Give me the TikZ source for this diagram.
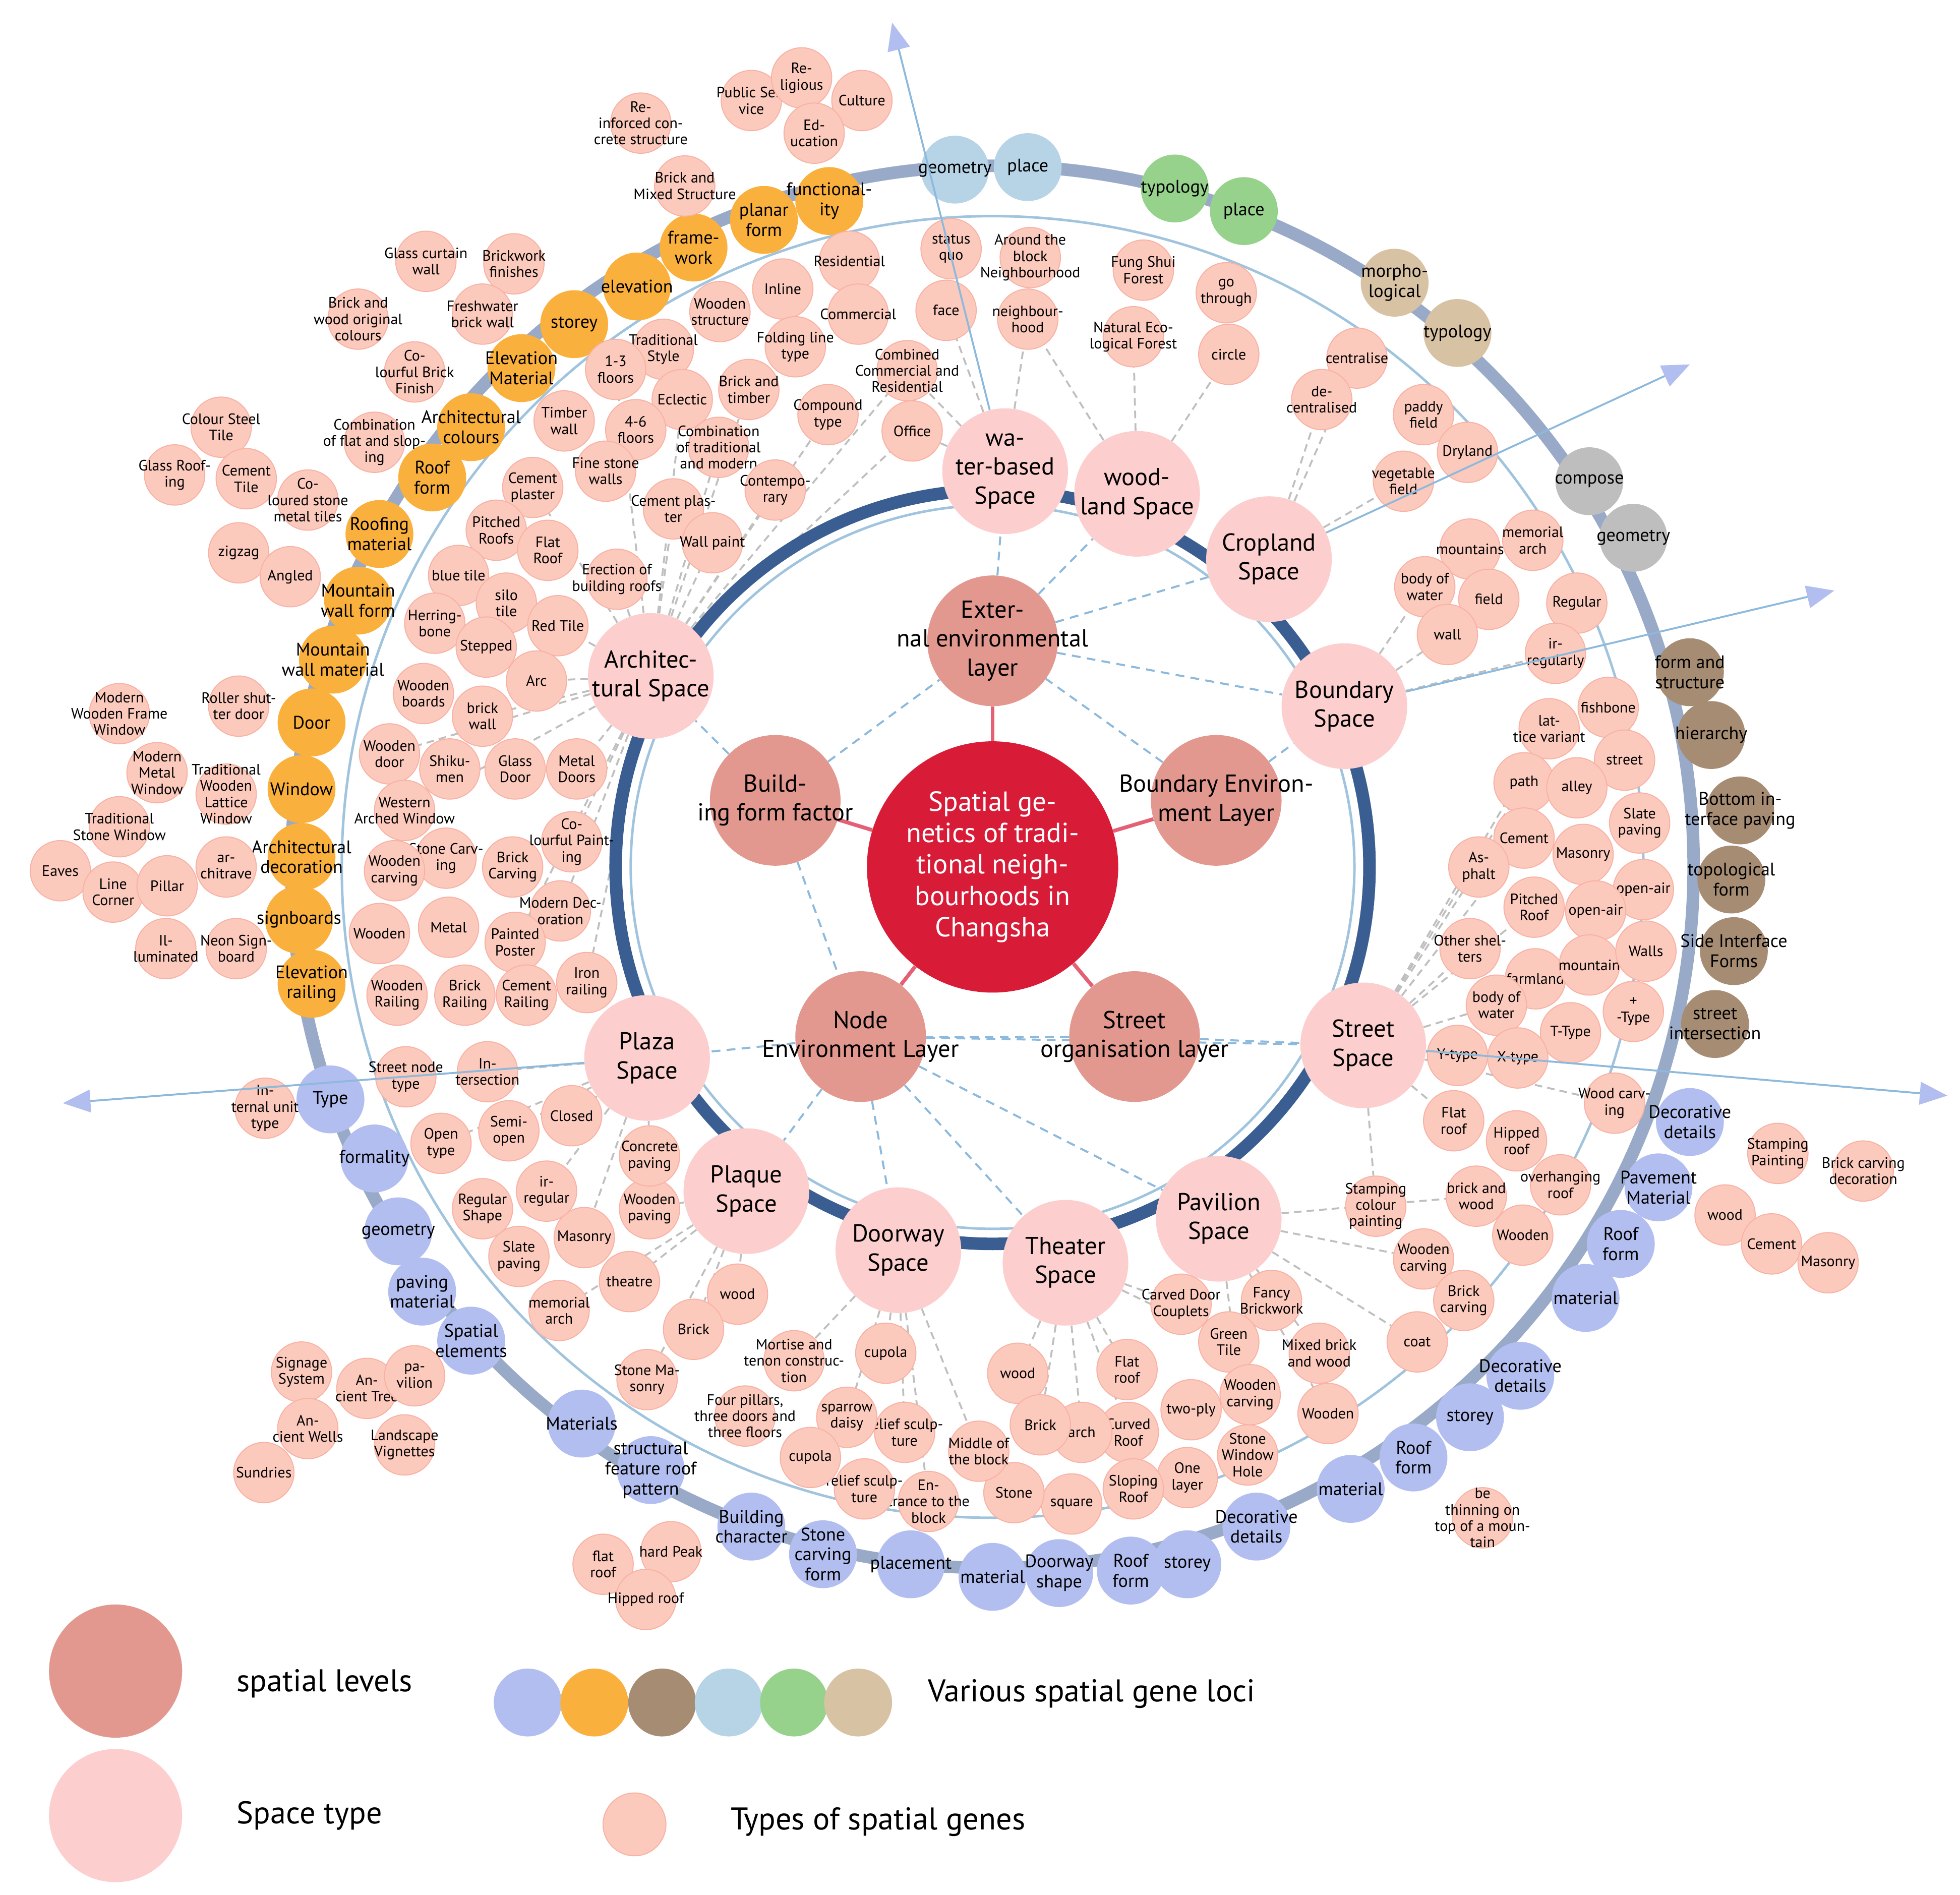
\documentclass[tikz,border=0pt]{standalone}
\usepackage{fontspec}
\setmainfont{PT Sans}
\usetikzlibrary{backgrounds,arrows.meta}
\definecolor{core}{RGB}{216,28,56}
\definecolor{lvl}{RGB}{226,152,143}
\definecolor{spc}{RGB}{252,206,206}
\definecolor{gen}{RGB}{252,202,188}
\definecolor{genl}{RGB}{248,178,165}
\definecolor{lblue}{RGB}{178,190,240}
\definecolor{lorange}{RGB}{250,176,60}
\definecolor{lbrown}{RGB}{166,140,114}
\definecolor{lsky}{RGB}{182,212,230}
\definecolor{lgreen}{RGB}{150,210,140}
\definecolor{ltan}{RGB}{216,194,164}
\definecolor{lgrey}{RGB}{190,190,190}
\definecolor{ringdark}{RGB}{58,94,145}
\definecolor{ringlight}{RGB}{160,196,222}
\definecolor{ringgrey}{RGB}{152,170,200}
\definecolor{axis}{RGB}{140,185,220}
\tikzset{
  core/.style={circle,fill=core,minimum size=200pt,inner sep=0pt},
  ct/.style={text=white,align=center,inner sep=0pt,font=\fontsize{22}{25}\selectfont},
  level/.style={circle,fill=lvl,minimum size=104pt,inner sep=0pt},
  space/.style={circle,fill=spc,minimum size=100pt,inner sep=0pt},
  st/.style={align=center,inner sep=0pt,font=\fontsize{19.5}{23}\selectfont},
  gene/.style={circle,fill=gen,draw=genl,line width=0.8pt,minimum size=48pt,inner sep=0pt},
  gt/.style={align=center,inner sep=0pt,font=\fontsize{12}{13}\selectfont},
  locus/.style={circle,fill=#1,minimum size=54pt,inner sep=0pt},
  lt/.style={align=center,inner sep=0pt,font=\fontsize{14.5}{16}\selectfont},
  tie/.style={dash pattern=on 6pt off 4pt,gray!50,line width=1.5pt},
  lvltie/.style={dash pattern=on 7pt off 5pt,axis,line width=1.6pt},
  coretie/.style={core!70,line width=3pt},
  ray/.style={axis,line width=1.5pt,-{Triangle[length=22pt,width=18pt,fill=lblue,color=lblue]}},
  legend/.style={font=\fontsize{25}{28}\selectfont,anchor=west}
}
\newcommand\gn[3]{\node[gene,label={[gt]center:#3}] (#1) at (#2) {};}
\newcommand\lc[4]{\node[locus=#2,label={[lt]center:#4}] (#1) at (#3) {};}
\begin{document}
\begin{tikzpicture}[x=1pt,y=-1pt]
\useasboundingbox (0,0) rectangle (1560,1508);
% rings
\draw[ringgrey,line width=10pt] (790,690) circle (558);
\draw[ringlight,line width=2pt] (790,690) circle (518);
\draw[ringdark,line width=10pt] (790,690) circle (300);
\draw[ringlight,line width=2pt] (790,690) circle (288);

% core and levels
\node[core,label={[ct]center:Spatial ge-\\netics of tradi-\\tional neigh-\\bourhoods in\\Changsha}] (c) at (790,690) {};
\node[level,label={[st]center:Exter-\\nal environmental\\layer}] (ext) at (790,510) {};
\node[level,label={[st]center:Build-\\ing form factor}] (bld) at (617,637) {};
\node[level,label={[st]center:Boundary Environ-\\ment Layer}] (bnd) at (968,637) {};
\node[level,label={[st]center:Node\\Environment Layer}] (nde) at (685,825) {};
\node[level,label={[st]center:Street\\organisation layer}] (sto) at (903,825) {};

% spaces
\node[space,label={[st]center:wa-\\ter-based\\Space}] (water) at (800,375) {};
\node[space,label={[st]center:wood-\\land Space}] (wood) at (905,393) {};
\node[space,label={[st]center:Cropland\\Space}] (crop) at (1010,445) {};
\node[space,label={[st]center:Boundary\\Space}] (bound) at (1070,562) {};
\node[space,label={[st]center:Street\\Space}] (street) at (1085,832) {};
\node[space,label={[st]center:Pavilion\\Space}] (pav) at (970,970) {};
\node[space,label={[st]center:Theater\\Space}] (theat) at (848,1005) {};
\node[space,label={[st]center:Doorway\\Space}] (door) at (715,995) {};
\node[space,label={[st]center:Plaque\\Space}] (plaq) at (594,948) {};
\node[space,label={[st]center:Plaza\\Space}] (plaza) at (515,842) {};
\node[space,label={[st]center:Architec-\\tural Space}] (arch) at (518,538) {};

% loci
\lc{l1}{lsky}{760,135}{geometry}
\lc{l2}{lsky}{818,133}{place}
\lc{l3}{lgreen}{935,150}{typology}
\lc{l4}{lgreen}{990,168}{place}
\lc{l5}{ltan}{1110,225}{morpho-\\logical}
\lc{l6}{ltan}{1160,265}{typology}
\lc{l7}{lgrey}{1265,383}{compose}
\lc{l8}{lgrey}{1300,428}{geometry}
\lc{l9}{lbrown}{1345,535}{form and\\structure}
\lc{l10}{lbrown}{1362,585}{hierarchy}
\lc{l11}{lbrown}{1385,645}{Bottom in-\\terface paving}
\lc{l12}{lbrown}{1378,700}{topological\\form}
\lc{l13}{lbrown}{1380,757}{Side Interface\\Forms}
\lc{l14}{lbrown}{1365,815}{street\\intersection}
\lc{l15}{lblue}{1345,893}{Decorative\\details}
\lc{l16}{lblue}{1320,945}{Pavement\\Material}
\lc{l17}{lblue}{1290,990}{Roof\\form}
\lc{l18}{lblue}{1262,1033}{material}
\lc{l19}{lblue}{1210,1095}{Decorative\\details}
\lc{l20}{lblue}{1170,1128}{storey}
\lc{l21}{lblue}{1125,1160}{Roof\\form}
\lc{l22}{lblue}{1075,1185}{material}
\lc{l23}{lblue}{1000,1215}{Decorative\\details}
\lc{l24}{lblue}{945,1245}{storey}
\lc{l25}{lblue}{900,1250}{Roof\\form}
\lc{l26}{lblue}{843,1252}{Doorway\\shape}
\lc{l27}{lblue}{790,1255}{material}
\lc{l28}{lblue}{725,1245}{placement}
\lc{l29}{lblue}{655,1237}{Stone\\carving\\form}
\lc{l30}{lblue}{598,1215}{Building\\character}
\lc{l31}{lblue}{518,1170}{structural\\feature roof\\pattern}
\lc{l32}{lblue}{463,1133}{Materials}
\lc{l33}{lblue}{375,1067}{Spatial\\elements}
\lc{l34}{lblue}{336,1028}{paving\\material}
\lc{l35}{lblue}{317,980}{geometry}
\lc{l36}{lblue}{298,922}{formality}
\lc{l37}{lblue}{263,875}{Type}
\lc{l38}{lorange}{660,160}{functional-\\ity}
\lc{l39}{lorange}{608,175}{planar\\form}
\lc{l40}{lorange}{552,197}{frame-\\work}
\lc{l41}{lorange}{507,228}{elevation}
\lc{l42}{lorange}{457,258}{storey}
\lc{l43}{lorange}{415,293}{Elevation\\Material}
\lc{l44}{lorange}{375,340}{Architectural\\colours}
\lc{l45}{lorange}{344,380}{Roof\\form}
\lc{l46}{lorange}{302,425}{Roofing\\material}
\lc{l47}{lorange}{285,478}{Mountain\\wall form}
\lc{l48}{lorange}{265,525}{Mountain\\wall material}
\lc{l49}{lorange}{248,575}{Door}
\lc{l50}{lorange}{240,628}{Window}
\lc{l51}{lorange}{240,682}{Architectural\\decoration}
\lc{l52}{lorange}{238,732}{signboards}
\lc{l53}{lorange}{248,783}{Elevation\\railing}

% architectural genes
\gn{a1}{510,98}{Re-\\inforced con-\\crete structure}
\gn{a2}{598,80}{Public Ser-\\vice}
\gn{a3}{638,62}{Re-\\ligious}
\gn{a4}{686,80}{Culture}
\gn{a5}{648,106}{Ed-\\ucation}
\gn{a6}{545,148}{Brick and\\Mixed Structure}
\gn{a7}{676,208}{Residential}
\gn{a8}{623,230}{Inline}
\gn{a9}{683,250}{Commercial}
\gn{a10}{573,248}{Wooden\\structure}
\gn{a11}{528,278}{Traditional\\Style}
\gn{a12}{633,276}{Folding line\\type}
\gn{a13}{722,295}{Combined\\Commercial and\\Residential}
\gn{a14}{490,294}{1-3\\floors}
\gn{a15}{543,318}{Eclectic}
\gn{a16}{596,310}{Brick and\\timber}
\gn{a17}{659,330}{Compound\\type}
\gn{a18}{726,343}{Office}
\gn{a19}{506,342}{4-6\\floors}
\gn{a20}{572,356}{Combination\\of traditional\\and modern}
\gn{a21}{617,390}{Contempo-\\rary}
\gn{a22}{449,335}{Timber\\wall}
\gn{a23}{482,375}{Fine stone\\walls}
\gn{a24}{536,405}{Cement plas-\\ter}
\gn{a25}{567,432}{Wall paint}
\gn{a26}{339,208}{Glass curtain\\wall}
\gn{a27}{409,210}{Brickwork\\finishes}
\gn{a28}{384,250}{Freshwater\\brick wall}
\gn{a29}{285,254}{Brick and\\wood original\\colours}
\gn{a30}{330,296}{Co-\\lourful Brick\\Finish}
\gn{a31}{298,352}{Combination\\of flat and slop-\\ing}
\gn{a32}{176,340}{Colour Steel\\Tile}
\gn{a33}{139,378}{Glass Roof-\\ing}
\gn{a34}{196,381}{Cement\\Tile}
\gn{a35}{245,398}{Co-\\loured stone\\metal tiles}
\gn{a36}{424,388}{Cement\\plaster}
\gn{a37}{395,422}{Pitched\\Roofs}
\gn{a38}{436,438}{Flat\\Roof}
\gn{a39}{491,461}{Erection of\\building roofs}
\gn{a40}{190,440}{zigzag}
\gn{a41}{231,459}{Angled}
\gn{a42}{365,458}{blue tile}
\gn{a43}{403,480}{silo\\tile}
\gn{a44}{444,498}{Red Tile}
\gn{a45}{346,496}{Herring-\\bone}
\gn{a46}{387,515}{Stepped}
\gn{a47}{427,542}{Arc}
\gn{a48}{337,552}{Wooden\\boards}
\gn{a49}{384,570}{brick\\wall}
\gn{a50}{190,562}{Roller shut-\\ter door}
\gn{a51}{95,568}{Modern\\Wooden Frame\\Window}
\gn{a52}{125,615}{Modern\\Metal\\Window}
\gn{a53}{180,632}{Traditional\\Wooden\\Lattice\\Window}
\gn{a54}{95,658}{Traditional\\Stone Window}
\gn{a55}{310,600}{Wooden\\door}
\gn{a56}{358,612}{Shiku-\\men}
\gn{a57}{410,612}{Glass\\Door}
\gn{a58}{459,612}{Metal\\Doors}
\gn{a59}{322,645}{Western\\Arched Window}
\gn{a60}{355,683}{Stone Carv-\\ing}
\gn{a61}{408,690}{Brick\\Carving}
\gn{a62}{455,670}{Co-\\lourful Paint-\\ing}
\gn{a63}{314,693}{Wooden\\carving}
\gn{a64}{446,725}{Modern Dec-\\oration}
\gn{a65}{48,693}{Eaves}
\gn{a66}{90,710}{Line\\Corner}
\gn{a67}{133,705}{Pillar}
\gn{a68}{180,690}{ar-\\chitrave}
\gn{a69}{132,755}{Il-\\luminated}
\gn{a70}{188,755}{Neon Sign-\\board}
\gn{a71}{302,743}{Wooden}
\gn{a72}{357,738}{Metal}
\gn{a73}{410,750}{Painted\\Poster}
\gn{a74}{316,792}{Wooden\\Railing}
\gn{a75}{370,792}{Brick\\Railing}
\gn{a76}{419,792}{Cement\\Railing}
\gn{a77}{467,782}{Iron\\railing}

% external genes
\gn{e1}{757,198}{status\\quo}
\gn{e2}{753,247}{face}
\gn{e3}{820,205}{Around the\\block\\Neighbourhood}
\gn{e4}{818,254}{neighbour-\\hood}
\gn{e5}{910,215}{Fung Shui\\Forest}
\gn{e6}{902,268}{Natural Eco-\\logical Forest}
\gn{e7}{976,233}{go\\through}
\gn{e8}{978,282}{circle}
\gn{e9}{1080,285}{centralise}
\gn{e10}{1052,318}{de-\\centralised}
\gn{e11}{1133,330}{paddy\\field}
\gn{e12}{1168,360}{Dryland}
\gn{e13}{1117,383}{vegetable\\field}
\gn{e14}{1220,430}{memorial\\arch}
\gn{e15}{1170,437}{mountains}
\gn{e16}{1134,467}{body of\\water}
\gn{e17}{1185,477}{field}
\gn{e18}{1255,480}{Regular}
\gn{e19}{1152,505}{wall}
\gn{e20}{1238,520}{ir-\\regularly}

% street genes
\gn{s1}{1280,563}{fishbone}
\gn{s2}{1233,580}{lat-\\tice variant}
\gn{s3}{1293,605}{street}
\gn{s4}{1213,623}{path}
\gn{s5}{1255,627}{alley}
\gn{s6}{1305,655}{Slate\\paving}
\gn{s7}{1213,667}{Cement}
\gn{s8}{1260,680}{Masonry}
\gn{s9}{1177,690}{As-\\phalt}
\gn{s10}{1308,708}{open-air}
\gn{s11}{1221,722}{Pitched\\Roof}
\gn{s12}{1270,725}{open-air}
\gn{s13}{1170,755}{Other shel-\\ters}
\gn{s14}{1222,779}{farmland}
\gn{s15}{1265,768}{mountain}
\gn{s16}{1310,757}{Walls}
\gn{s17}{1191,800}{body of\\water}
\gn{s18}{1300,805}{+\\-Type}
\gn{s19}{1250,822}{T-Type}
\gn{s20}{1160,840}{Y-type}
\gn{s21}{1208,842}{X-type}
\gn{s22}{1285,878}{Wood carv-\\ing}
\gn{s23}{1157,892}{Flat\\roof}
\gn{s24}{1207,908}{Hipped\\roof}
\gn{s25}{1242,943}{overhanging\\roof}
\gn{s26}{1175,952}{brick and\\wood}
\gn{s27}{1212,983}{Wooden}
\gn{s28}{1095,960}{Stamping\\colour\\painting}
\gn{s29}{1133,1002}{Wooden\\carving}
\gn{s30}{1165,1035}{Brick\\carving}
\gn{s31}{1128,1068}{coat}
\gn{s32}{1415,918}{Stamping\\Painting}
\gn{s33}{1483,932}{Brick carving\\decoration}
\gn{s34}{1373,967}{wood}
\gn{s35}{1410,990}{Cement}
\gn{s36}{1455,1005}{Masonry}
\gn{s37}{1180,1208}{be\\thinning on\\top of a moun-\\tain}

% node genes
\gn{n1}{940,1038}{Carved Door\\Couplets}
\gn{n2}{1012,1035}{Fancy\\Brickwork}
\gn{n3}{978,1068}{Green\\Tile}
\gn{n4}{1050,1077}{Mixed brick\\and wood}
\gn{n5}{995,1110}{Wooden\\carving}
\gn{n6}{1057,1125}{Wooden}
\gn{n7}{948,1122}{two-ply}
\gn{n8}{993,1158}{Stone\\Window\\Hole}
\gn{n9}{945,1176}{One\\layer}
\gn{n10}{897,1090}{Flat\\roof}
\gn{n11}{898,1140}{Curved\\Roof}
\gn{n12}{902,1185}{Sloping\\Roof}
\gn{n13}{861,1140}{arch}
\gn{n14}{853,1197}{square}
\gn{n15}{810,1093}{wood}
\gn{n16}{828,1134}{Brick}
\gn{n17}{807,1188}{Stone}
\gn{n18}{779,1155}{Middle of\\the block}
\gn{n19}{739,1195}{En-\\trance to the\\block}
\gn{n20}{720,1140}{relief sculp-\\ture}
\gn{n21}{688,1185}{relief sculp-\\ture}
\gn{n22}{705,1077}{cupola}
\gn{n23}{674,1128}{sparrow\\daisy}
\gn{n24}{645,1160}{cupola}
\gn{n25}{632,1083}{Mortise and\\tenon construc-\\tion}
\gn{n26}{593,1127}{Four pillars,\\three doors and\\three floors}
\gn{n27}{587,1030}{wood}
\gn{n28}{552,1058}{Brick}
\gn{n29}{515,1098}{Stone Ma-\\sonry}
\gn{n30}{501,1020}{theatre}
\gn{n31}{445,1043}{memorial\\arch}
\gn{n32}{465,985}{Masonry}
\gn{n33}{413,1000}{Slate\\paving}
\gn{n34}{384,962}{Regular\\Shape}
\gn{n35}{435,948}{ir-\\regular}
\gn{n36}{517,962}{Wooden\\paving}
\gn{n37}{517,920}{Concrete\\paving}
\gn{n38}{455,888}{Closed}
\gn{n39}{405,900}{Semi-\\open}
\gn{n40}{351,910}{Open\\type}
\gn{n41}{323,857}{Street node\\type}
\gn{n42}{388,853}{In-\\tersection}
\gn{n43}{211,882}{In-\\ternal unit\\type}
\gn{n44}{240,1092}{Signage\\System}
\gn{n45}{292,1105}{An-\\cient Tree}
\gn{n46}{330,1095}{pa-\\vilion}
\gn{n47}{245,1137}{An-\\cient Wells}
\gn{n48}{322,1150}{Landscape\\Vignettes}
\gn{n49}{210,1172}{Sundries}
\gn{n50}{480,1245}{flat\\roof}
\gn{n51}{534,1235}{hard Peak}
\gn{n52}{514,1273}{Hipped roof}

% connectors
\begin{scope}[on background layer]
\foreach \l in {ext,bld,bnd,nde,sto} \draw[coretie] (c) -- (\l);
\foreach \s in {water,wood,crop,bound} \draw[lvltie] (ext) -- (\s);
\draw[lvltie] (bld) -- (arch);
\draw[lvltie] (bld) -- (ext);
\draw[lvltie] (bnd) -- (bound);
\draw[lvltie] (bnd) -- (ext);
\draw[lvltie] (sto) -- (street);
\draw[lvltie] (sto) -- (nde);
\foreach \s in {plaza,plaq,door,theat,pav} \draw[lvltie] (nde) -- (\s);
\draw[lvltie] (nde) -- (street);
\draw[lvltie] (bld) -- (nde);
\foreach \g in {a14,a15,a16,a20,a21,a24,a25,a36,a39,a44,a47,a49,a58,a62,a64,a77,a13,a17,a18}
  \draw[tie] (arch) -- (\g);
\draw[tie] (arch) -- (a55);
\draw[tie] (arch) -- (a59);
\draw[tie] (arch) -- (a73);
\foreach \g in {e2,e4,a18,a13} \draw[tie] (water) -- (\g);
\foreach \g in {e6,e8,e4} \draw[tie] (wood) -- (\g);
\foreach \g in {e10,e13,e9} \draw[tie] (crop) -- (\g);
\foreach \g in {e16,e19,e20} \draw[tie] (bound) -- (\g);
\foreach \g in {s2,s4,s7,s9,s11,s13,s17,s20,s23,s22,s28}
  \draw[tie] (street) -- (\g);
\foreach \g in {s26,s29,s31,n4,n6,n8} \draw[tie] (pav) -- (\g);
\foreach \g in {n10,n11,n13,n15,n16,n1,n3} \draw[tie] (theat) -- (\g);
\foreach \g in {n18,n19,n20,n22,n23,n25} \draw[tie] (door) -- (\g);
\foreach \g in {n27,n28,n29,n30,n31,n36} \draw[tie] (plaq) -- (\g);
\foreach \g in {n37,n38,n39,n40,n41,n42,n35,n32} \draw[tie] (plaza) -- (\g);
\end{scope}

% axes
\coordinate (tipn) at (710,18);
\coordinate (tipne) at (1345,290);
\coordinate (tipe) at (1460,470);
\coordinate (tipse) at (1550,872);
\coordinate (tipw) at (50,878);
\draw[ray] (water) -- (tipn);
\draw[ray] (crop) -- (tipne);
\draw[ray] (bound) -- (tipe);
\draw[ray] (street) -- (tipse);
\draw[ray] (plaza) -- (tipw);

% legend
\node[circle,fill=lvl,minimum size=106pt] (kl) at (92,1330) {};
\node[legend] (klt) at (185,1340) {spatial levels};
\node[circle,fill=spc,minimum size=106pt] (ks) at (92,1445) {};
\node[legend] (kst) at (185,1445) {Space type};
\node[locus=lblue] (k1) at (420,1355) {};
\node[locus=lorange] (k2) at (473,1355) {};
\node[locus=lbrown] (k3) at (527,1355) {};
\node[locus=lsky] (k4) at (580,1355) {};
\node[locus=lgreen] (k5) at (632,1355) {};
\node[locus=ltan] (k6) at (683,1355) {};
\node[legend] (kgt) at (735,1348) {Various spatial gene loci};
\node[gene,minimum size=50pt] (kg) at (505,1452) {};
\node[legend] (kgn) at (578,1450) {Types of spatial genes};
\end{tikzpicture}
\end{document}
